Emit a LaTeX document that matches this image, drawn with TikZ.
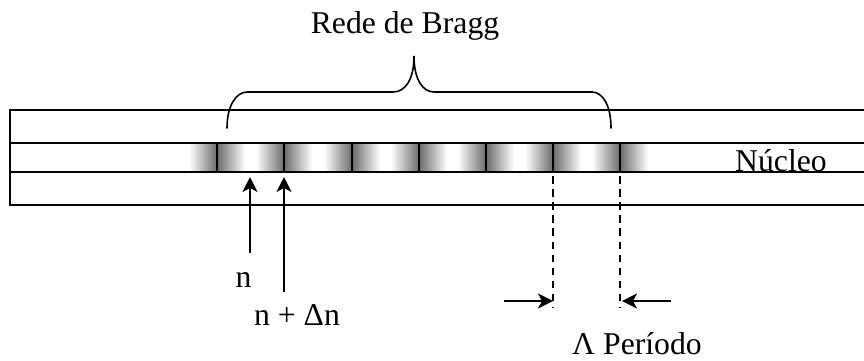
\documentclass[tikz,border=0pt]{standalone}
\usepackage{fontspec}
\setmainfont{Liberation Serif}
\usetikzlibrary{arrows.meta}
\tikzset{
  line/.style={draw=black,line width=1.8pt},
  thinline/.style={draw=black,line width=1.6pt},
  brace/.style={draw=black,line width=1.6pt,line cap=round},
  tick/.style={draw=black,line width=1.6pt},
  dashline/.style={draw=black,line width=1.7pt,dash pattern=on 7.5pt off 5.6pt},
  arrowline/.style={draw=black,line width=1.7pt,-{Triangle[width=15pt,length=15pt,inset=4pt]}},
  lab/.style={inner sep=0pt,anchor=base,font=\fontsize{31.7pt}{34pt}\selectfont},
}
\newcommand{\fadeR}[1]{\shade[left color=black!58,right color=white] (#1,144) rectangle (#1+28,171);}
\newcommand{\fadeL}[1]{\shade[left color=white,right color=black!58] (#1-28,144) rectangle (#1,171);}
\begin{document}
\begin{tikzpicture}[x=1pt,y=-1pt]
\useasboundingbox (0,0) rectangle (864,360);
\foreach \p in {217,284,352,419,486,553,620}{\fadeL{\p}\fadeR{\p}}
\coordinate (tl) at (10,110);
\coordinate (tr) at (864,110);
\coordinate (cl) at (10,143);
\coordinate (cr) at (864,143);
\coordinate (dl) at (10,172);
\coordinate (dr) at (864,172);
\coordinate (bl) at (10,205);
\coordinate (br) at (864,205);
\draw[line] (tr) -- (tl) -- (bl) -- (br);
\draw[thinline] (cl) -- (cr);
\draw[line] (dl) -- (dr);
\foreach \p in {217,284,352,419,486,553,620}{\draw[tick] (\p,143) -- (\p,172);}
\coordinate (b1) at (227,128);
\coordinate (b2) at (611,128);
\coordinate (bm) at (414,56);
\draw[brace] (b1) .. controls (227,106) and (236,92) .. (247,92)
  -- (393,92) .. controls (405,92) and (414,80) .. (bm)
  .. controls (414,80) and (423,92) .. (434,92)
  -- (592,92) .. controls (603,92) and (611,106) .. (b2);
\node[lab] (rede) at (405,33) {Rede de Bragg};
\node[lab] (nucleo) at (781,171) {Núcleo};
\node[lab] (n) at (243.5,287) {n};
\node[lab] (ndn) at (297,325) {n + Δn};
\node[lab] (per) at (637,354.5) {Λ Período};
\coordinate (a1s) at (250,253);
\coordinate (a1e) at (250,177);
\coordinate (a2s) at (284,292);
\coordinate (a2e) at (284,177);
\draw[arrowline] (a1s) -- (a1e);
\draw[arrowline] (a2s) -- (a2e);
\coordinate (d1s) at (553,176);
\coordinate (d1e) at (553,308);
\coordinate (d2s) at (620,176);
\coordinate (d2e) at (620,308);
\draw[dashline] (d1s) -- (d1e);
\draw[dashline] (d2s) -- (d2e);
\coordinate (p1s) at (504,301);
\coordinate (p1e) at (553,301);
\coordinate (p2s) at (671,301);
\coordinate (p2e) at (622,301);
\draw[arrowline] (p1s) -- (p1e);
\draw[arrowline] (p2s) -- (p2e);
\end{tikzpicture}
\end{document}
